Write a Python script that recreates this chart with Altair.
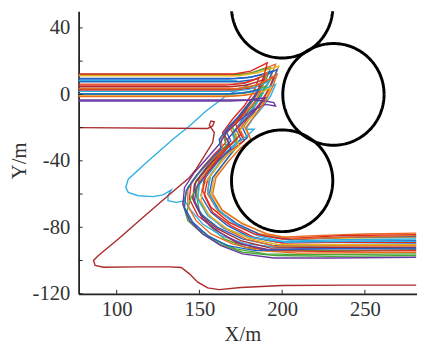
import altair as alt
import numpy as np
import pandas as pd

# ---------------- data ----------------
X_DOMAIN = [77, 281.5]
Y_DOMAIN = [-120, 50]
X_TICKS = [100, 150, 200, 250]
Y_TICKS = [-120, -100, -80, -60, -40, -20, 0, 20, 40]

# circular obstacles (centre x, centre y, radius)
OBST_X = [200, 231, 200]
OBST_Y = [52.5, 0, -52]
OBST_R = [30.6, 30.6, 30.6]

T01 = [[77,12],[172,12],[182,13],[190,16],[196,18],[193,10],[188,0],[181,-10],[174,-20],[177,-26],[170,-32],[163,-40],[156,-50],[155,-60],[161,-70],[172,-78],[186,-84],[200,-86],[220,-85],[250,-84],[281,-83.5]]
T02 = [[77,11.8],[170,11.8],[180,12.5],[188,15],[193,16],[190,8],[184,-1],[177,-11],[170,-20],[173,-27],[166,-33],[158,-41],[150,-50],[148,-60],[150,-70],[156,-79],[165,-87],[178,-92],[196,-94],[240,-94],[281,-93.5]]
T03 = [[77,11.2],[174,11.2],[185,13],[193,15.5],[198,17],[195,9],[190,0],[184,-9],[177,-19],[180,-25],[173,-31],[166,-40],[159,-50],[157,-60],[163,-69],[175,-77],[190,-84],[205,-87],[240,-86.5],[281,-86]]
T04 = [[77,9.6],[171,9.6],[182,10.5],[189,12.5],[194,14],[191,6],[185,-3],[178,-12],[172,-21],[175,-27],[168,-33],[160,-42],[153,-51],[151,-61],[157,-71],[167,-79],[181,-86],[198,-89],[225,-88.5],[281,-88]]
T05 = [[77,9.2],[168,9.2],[179,10],[186,11.5],[190,12],[187,4],[180,-5],[173,-14],[166,-22],[169,-28],[162,-35],[155,-43],[148,-52],[146,-62],[151,-72],[161,-80],[176,-87],[195,-91],[225,-90.5],[281,-90]]
T06 = [[77,8.3],[172,8.3],[179.5,5.7],[166,-1],[154,-10],[144,-19],[134,-27],[118,-41],[107,-51],[105.5,-56],[107,-59],[113,-61],[122,-61.5],[128,-60.5],[133,-57.5],[131,-61],[131,-64],[136,-65],[141,-64],[145,-70],[152,-78],[163,-85],[178,-90],[198,-92],[230,-91],[281,-90.5]]
T07 = [[77,7.6],[173,7.6],[184,9],[192,12.5],[197,15],[194,7],[189,-2],[183,-11],[176,-20],[179,-26],[172,-32],[165,-41],[158,-50],[156,-60],[162,-70],[173,-78],[188,-85],[205,-87.5],[235,-86],[281,-85.5]]
T08 = [[77,6.2],[170,6.2],[180,7.5],[187,10.5],[191,13],[188,5],[182,-4],[175,-13],[169,-21],[172,-27],[165,-34],[157,-43],[150,-52],[149,-62],[154,-71],[164,-80],[178,-87],[196,-91.5],[230,-91],[281,-91]]
T09 = [[77,5.6],[166,5.6],[176,6.5],[182,8.5],[186,10],[183,2],[177,-7],[170,-15],[164,-23],[166,-29],[159,-36],[152,-44],[145,-53],[144,-63],[149,-73],[159,-81],[172,-89],[190,-94],[225,-94.5],[281,-94]]
T10 = [[77,4.6],[168,4.6],[178,5.5],[185,7.5],[189,9],[185,1],[179,-7],[172,-16],[165,-24],[168,-30],[161,-37],[154,-45],[147,-54],[146,-63],[151,-73],[161,-81],[175,-88],[193,-92.5],[230,-92],[281,-92]]
T11 = [[77,3.2],[171,3.2],[181,4.5],[188,7],[193,9],[189,2],[184,-6],[177,-15],[170,-23],[173,-29],[166,-35],[158,-44],[151,-53],[145,-62],[142,-72],[149,-81],[160,-88],[172,-93],[190,-96],[215,-96.5],[281,-96]]
T12 = [[77,2.6],[172,2.6],[183,4],[190,7.5],[195,11],[192,3],[187,-5],[180,-13],[174,-22],[177,-28],[169,-34],[162,-42],[155,-51],[153,-61],[158,-71],[169,-79],[183,-86],[200,-89.5],[235,-89],[281,-89]]
T13 = [[77,1.8],[170,1.8],[180,3],[187,5.5],[192,8],[188,0],[183,-8],[176,-16],[170,-24],[172,-30],[164,-36],[157,-45],[150,-54],[149,-63],[155,-73],[166,-81],[181,-86],[198,-88.5],[235,-87.5],[281,-87]]
T14 = [[77,0.4],[172,0.4],[183,1.5],[191,4],[196,6],[193,-1],[188,-8],[182,-15],[178,-21],[183,-21],[180,-24],[172,-30],[164,-39],[157,-48],[155,-58],[160,-68],[170,-77],[185,-85],[202,-89],[240,-88.5],[281,-88.5]]
T15 = [[77,0],[168,0],[178,1],[185,3],[190,5],[186,-2],[180,-9],[172,-17],[165,-25],[166,-31],[158,-38],[150,-47],[143,-56],[140,-66],[143,-76],[152,-84],[162,-90],[176,-95],[196,-97],[230,-97.5],[281,-97]]
T16 = [[77,-0.9],[171,-0.9],[182,0],[189,2],[193,4],[190,-3],[185,-10],[178,-17],[172,-25],[174,-31],[166,-37],[159,-46],[152,-55],[151,-64],[156,-73],[167,-81],[181,-87],[198,-90.5],[235,-90.5],[281,-90.5]]
T17 = [[77,-1.3],[167,-1.3],[177,-0.5],[183,0.5],[187,2],[183,-5],[177,-12],[169,-20],[163,-27],[164,-33],[157,-40],[149,-48],[143,-57],[143,-67],[148,-76],[157,-84],[170,-90],[186,-94],[210,-95.5],[281,-95]]
T18 = [[77,-3.4],[172,-3.4],[183,-3.4],[190,-4],[195,-5],[196,-7],[190,-6],[183,-9],[175,-15],[167,-22],[162,-30],[155,-38],[147,-47],[141,-56],[140,-66],[144,-76],[152,-84],[163,-91],[176,-96],[195,-98.5],[230,-98.5],[281,-98]]
T19 = [[77,-4],[168,-4],[179,-3.5],[186,-2.5],[190,-2],[186,-7],[180,-13],[173,-20],[167,-27],[169,-33],[162,-39],[155,-47],[148,-56],[147,-65],[152,-75],[162,-83],[175,-90],[192,-93.5],[230,-93],[281,-93]]
T20 = [[77,-20],[155,-20.5],[158,-19],[159,-16.5],[157,-16],[156,-18.5],[159,-23],[158,-29],[153,-37],[148,-45],[144,-50],[131,-61],[116,-74],[101,-87],[89,-97],[86,-100],[87,-103],[92,-104],[112,-103.8],[132,-103.8],[139,-104.2],[144,-108],[149,-113],[155,-116.5],[162,-117.5],[175,-116.2],[200,-115],[240,-114.8],[281,-114.8]]
T21 = [[77,12.3],[171,12.3],[181,14],[187,17],[191,19],[189,11],[185,2],[179,-8],[172,-18],[175,-24],[168,-31],[161,-39],[154,-48],[152,-58],[157,-68],[168,-77],[183,-84],[200,-87],[235,-85],[281,-84.5]]
T22 = [[77,0.2],[166,0.2],[176,1],[182,2],[186,3],[182,-4],[176,-11],[168,-19],[162,-27],[163,-33],[156,-40],[148,-49],[142,-58],[141,-68],[146,-77],[155,-85],[167,-91],[184,-94],[210,-93],[281,-92.5]]
T23 = [[77,3.6],[173,3.6],[184,5.5],[192,9],[197,12],[194,4],[190,-4],[184,-12],[178,-20],[181,-27],[174,-33],[167,-41],[160,-50],[158,-60],[164,-70],[176,-78],[191,-84],[207,-87],[240,-86],[281,-85]]

TRAJECTORIES = [T01, T02, T03, T04, T05, T06, T07, T08, T09, T10, T11, T12,
                T13, T14, T15, T16, T17, T18, T19, T21, T22, T23, T20]
TRAJ_COLOR = ["orange", "green", "yellow", "blue", "blue", "cyan", "blue", "orange",
              "red", "darkred", "green", "red", "cyan", "cyan", "green", "yellow",
              "orange", "purple", "purple", "red", "blue", "orange", "darkred"]

PALETTE = {
    "blue": "#1f63c6",
    "orange": "#ea6a1f",
    "red": "#e0291f",
    "yellow": "#e6b21e",
    "purple": "#6a3aa2",
    "green": "#4aa83a",
    "cyan": "#2fb0e4",
    "darkred": "#ac2a2a",
}

# ---------------- tables ----------------
rows = []
for k, (pts, c) in enumerate(zip(TRAJECTORIES, TRAJ_COLOR)):
    for i, (x, y) in enumerate(pts):
        rows.append({"id": f"t{k:02d}", "i": i, "x": x, "y": y})
traj_df = pd.DataFrame(rows)
ids = [f"t{k:02d}" for k in range(len(TRAJECTORIES))]
cols = [PALETTE[c] for c in TRAJ_COLOR]

ang = np.linspace(0, 2 * np.pi, 241)
crow = []
for k, (cx, cy, r) in enumerate(zip(OBST_X, OBST_Y, OBST_R)):
    for i, a in enumerate(ang):
        crow.append({"k": k, "i": i, "x": cx + r * np.cos(a), "y": cy + r * np.sin(a)})
circ_df = pd.DataFrame(crow)

FONT = "Liberation Serif"
xscale = alt.Scale(domain=X_DOMAIN, nice=False, zero=False)
yscale = alt.Scale(domain=Y_DOMAIN, nice=False, zero=False)

traj = alt.Chart(traj_df).mark_line(strokeWidth=1.4, clip=True).encode(
    x=alt.X("x:Q", scale=xscale,
            axis=alt.Axis(values=X_TICKS, title="X/m", labelPadding=5,
                          labelExpr="toString(datum.value)",
                          titleX=167, titleY=31, titleBaseline="top", titleAlign="center")),
    y=alt.Y("y:Q", scale=yscale,
            axis=alt.Axis(values=Y_TICKS, title="Y/m", labelPadding=9, titleAngle=270,
                          labelExpr="toString(datum.value)",
                          titleX=-60, titleY=152, titleAlign="center", titleBaseline="middle")),
    color=alt.Color("id:N", scale=alt.Scale(domain=ids, range=cols), legend=None),
    order=alt.Order("i:Q"),
)

circles = alt.Chart(circ_df).mark_line(color="black", strokeWidth=3, clip=True).encode(
    x=alt.X("x:Q", scale=xscale),
    y=alt.Y("y:Q", scale=yscale),
    detail="k:N",
    order=alt.Order("i:Q"),
)

ytick = alt.Chart(pd.DataFrame({"v": Y_TICKS})).mark_rule(color="#222", strokeWidth=1).encode(
    y=alt.Y("v:Q", scale=yscale), x=alt.value(0), x2=alt.value(4))
xtick = alt.Chart(pd.DataFrame({"v": X_TICKS})).mark_rule(color="#222", strokeWidth=1).encode(
    x=alt.X("v:Q", scale=xscale), y=alt.value(288), y2=alt.value(284))

chart = alt.layer(traj, circles, ytick, xtick).properties(
    width=345, height=288,
    autosize=alt.AutoSizeParams(type="none"),
    padding={"left": 72, "top": 0, "right": 0, "bottom": 56},
    background="white",
).configure_view(stroke=None).configure_axis(
    grid=False, domainColor="#222", domainWidth=1.8, tickSize=0,
    labelFont=FONT, labelFontSize=21, labelColor="#333333",
    titleFont=FONT, titleFontSize=21, titleFontWeight="normal", titleColor="#333333",
    labelOverlap=False,
)

chart.save("out.html", embed_options={"renderer": "svg", "actions": False})
